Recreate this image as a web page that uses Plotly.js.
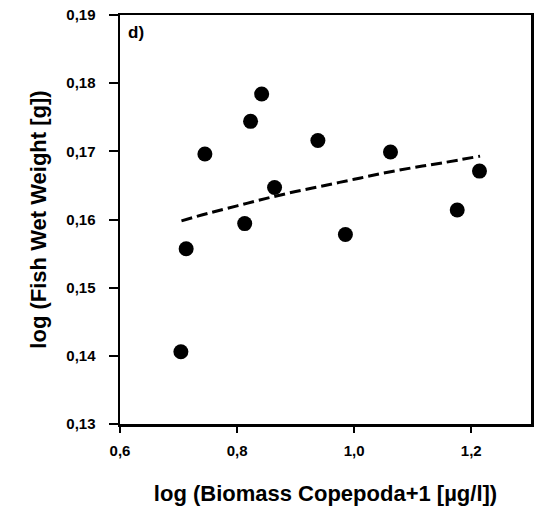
<!DOCTYPE html>
<html>
<head>
<meta charset="utf-8">
<script src="https://cdn.plot.ly/plotly-3.0.1.min.js"></script>
<style>html,body{margin:0;padding:0;background:#fff;}#chart{width:535px;height:508px;}</style>
</head>
<body>
<div id="chart"></div>
<script>
// Observed points
const biomass = [0.704, 0.713, 0.745, 0.813, 0.823, 0.842, 0.864, 0.938, 0.985, 1.062, 1.176, 1.214];
const fishWeight = [0.1406, 0.1557, 0.1696, 0.1594, 0.1744, 0.1784, 0.1647, 0.1716, 0.1578, 0.1699, 0.1614, 0.1671];
// Fitted (dashed) curve
const fitX = [0.705, 0.75, 0.8, 0.85, 0.9, 0.95, 1.0, 1.05, 1.1, 1.15, 1.215];
const fitY = [0.1598, 0.1609, 0.1620, 0.1631, 0.1641, 0.1650, 0.1659, 0.1668, 0.1676, 0.1683, 0.1693];
// Tick labels
const xTicks = [0.6, 0.8, 1.0, 1.2];
const xTickText = ['0,6', '0,8', '1,0', '1,2'];
const yTicks = [0.13, 0.14, 0.15, 0.16, 0.17, 0.18, 0.19];
const yTickText = ['0,13', '0,14', '0,15', '0,16', '0,17', '0,18', '0,19'];

const font = 'Liberation Sans, Arial, sans-serif';
const traces = [
  {x: fitX, y: fitY, mode: 'lines', line: {color: '#000', width: 3, dash: '11px,5px', shape: 'spline'}, hoverinfo: 'skip'},
  {x: biomass, y: fishWeight, mode: 'markers', marker: {color: '#000', size: 15}}
];
const layout = {
  width: 535, height: 508,
  margin: {l: 120, r: 4, t: 15, b: 84},
  showlegend: false,
  paper_bgcolor: '#fff', plot_bgcolor: '#fff',
  font: {family: font, color: '#000'},
  xaxis: {
    range: [0.6, 1.302], tickvals: xTicks, ticktext: xTickText,
    showgrid: false, zeroline: false, showline: true, linecolor: '#000', linewidth: 2.5, mirror: true,
    ticks: 'outside', ticklen: 6, tickwidth: 2, tickcolor: '#000', ticklabelstandoff: 5,
    tickfont: {family: font, size: 15, weight: 'bold'},
    title: {text: 'log (Biomass Copepoda+1 [µg/l])', font: {family: font, size: 22, weight: 'bold'}, standoff: 28}
  },
  yaxis: {
    range: [0.13, 0.19], tickvals: yTicks, ticktext: yTickText,
    showgrid: false, zeroline: false, showline: true, linecolor: '#000', linewidth: 2.5, mirror: true,
    ticks: 'outside', ticklen: 9, tickwidth: 2, tickcolor: '#000', ticklabelstandoff: 10,
    tickfont: {family: font, size: 15, weight: 'bold'},
    title: {text: 'log (Fish Wet Weight [g])', font: {family: font, size: 22, weight: 'bold'}, standoff: 14}
  },
  annotations: [{
    text: 'd)', xref: 'paper', yref: 'paper', x: 0.015, y: 0.985, xanchor: 'left', yanchor: 'top',
    showarrow: false, font: {family: font, size: 17, weight: 'bold'}
  }]
};
Plotly.newPlot('chart', traces, layout, {displayModeBar: false, staticPlot: true});
</script>
</body>
</html>
